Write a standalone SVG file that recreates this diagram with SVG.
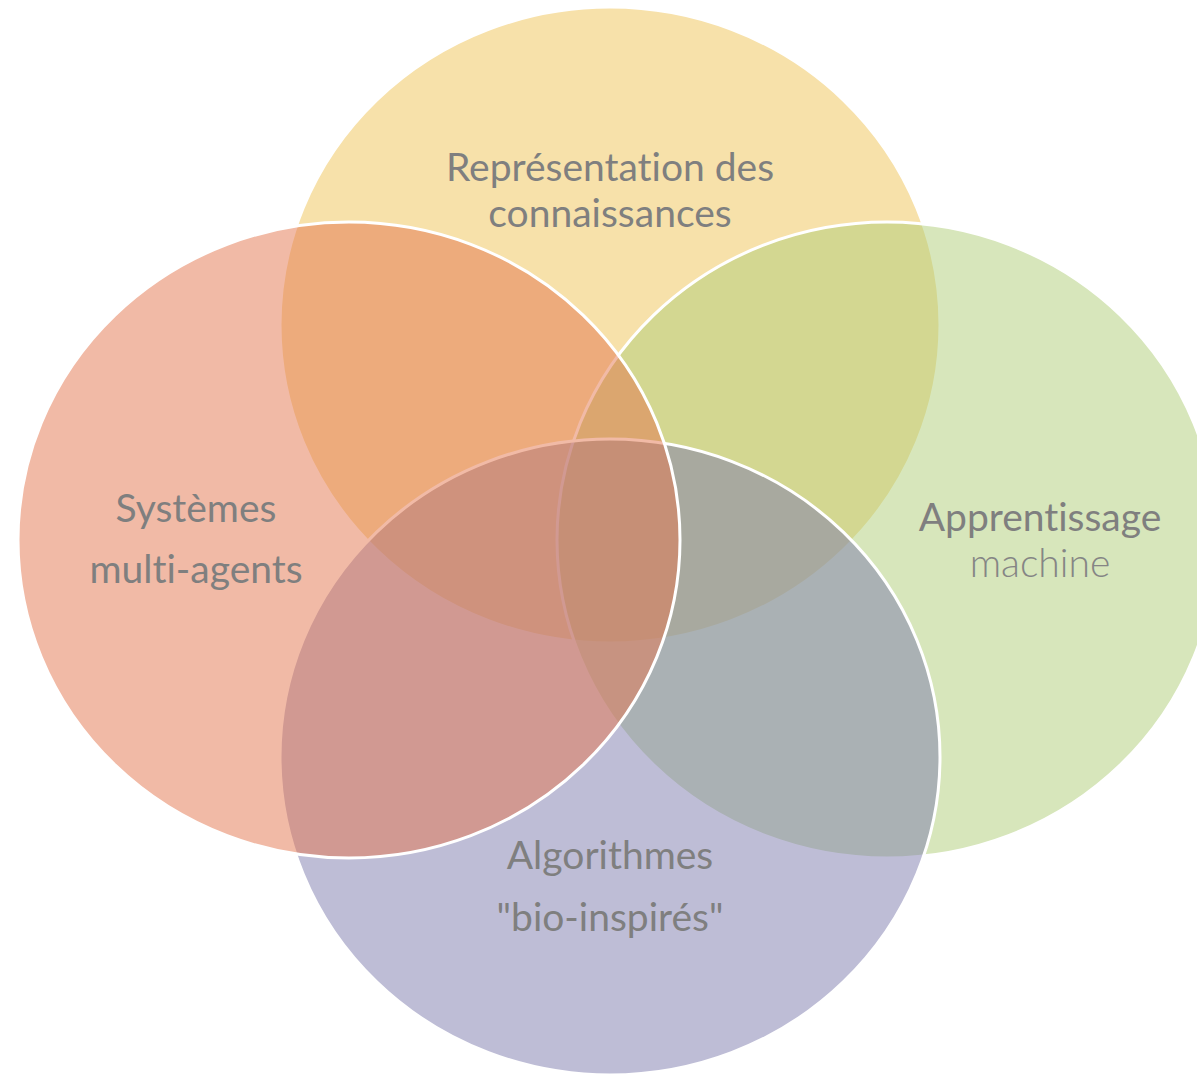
<svg xmlns="http://www.w3.org/2000/svg" width="1197" height="1074" viewBox="0 0 1197 1074">
<style>
.c{fill-opacity:0.5;stroke:#FFFFFF;stroke-width:3}
.t{font-family:Lato,"Liberation Sans",sans-serif;font-size:39px;fill:#7F7F7F;text-anchor:middle;font-variant-ligatures:none}
.s{font-weight:300;fill:#858585}
</style>
<rect width="1197" height="1074" fill="#FFFFFF"/>
<g id="top"><ellipse class="c" cx="610" cy="325" rx="330" ry="318" fill="#EFC355"/></g>
<g id="right"><ellipse class="c" cx="887" cy="540" rx="330" ry="318" fill="#AFCD77"/></g>
<g id="bottom"><ellipse class="c" cx="610" cy="757" rx="330" ry="318" fill="#7D7BAD"/></g>
<g id="left"><ellipse class="c" cx="349" cy="540" rx="331" ry="318" fill="#E3754D"/></g>
<g id="connectors"></g>
<g id="labels">
<text class="t" x="610" y="181">Représentation des</text>
<text class="t" x="610" y="227">connaissances</text>
<text class="t" x="1040" y="531">Apprentissage</text>
<text class="t s" x="1040" y="577">machine</text>
<text class="t" x="196" y="522">Systèmes</text>
<text class="t" x="196" y="583">multi-agents</text>
<text class="t" x="610" y="869">Algorithmes</text>
<text class="t" x="610" y="931">"bio-inspirés"</text>
</g>
</svg>
